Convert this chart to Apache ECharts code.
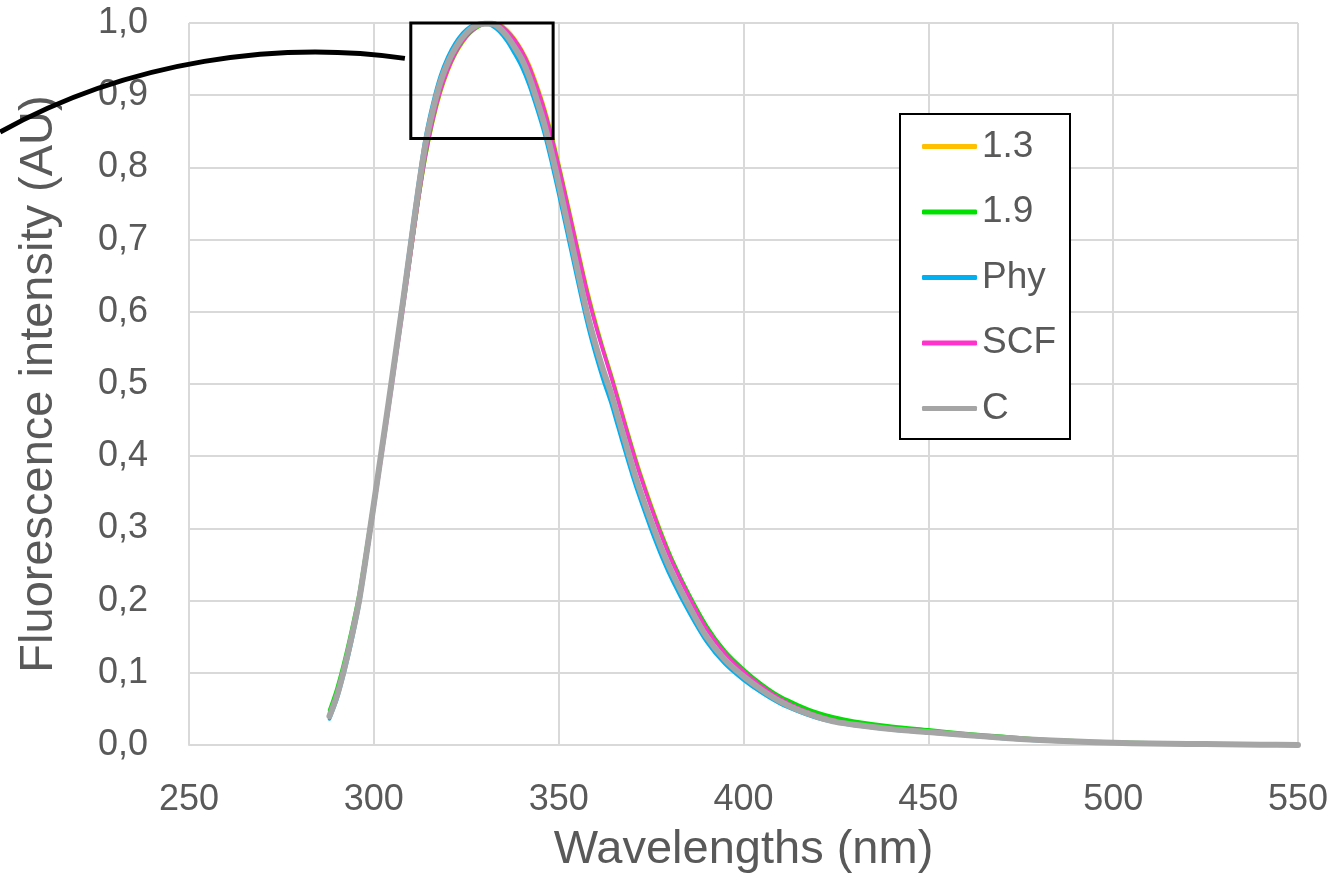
<!DOCTYPE html>
<html>
<head>
<meta charset="utf-8">
<title>Fluorescence</title>
<script src="https://cdn.jsdelivr.net/npm/echarts@6/dist/echarts.min.js"></script>
<style>
  html, body { margin: 0; padding: 0; background: #fff; }
  #chart { width: 1337px; height: 873px; }
</style>
</head>
<body>
<div id="chart"></div>
<script>
// wavelengths (nm)
const wavelengths = [288,290,292,294,296,298,300,302,304,306,308,310,312,314,316,318,320,322,324,326,328,330,
  332,334,336,338,340,342,344,346,348,350,352,354,356,358,360,362,364,366,368,370,372,
  375,378,381,385,390,395,400,405,410,415,420,425,430,
  440,450,460,470,480,490,500,510,520,530,540,550];

const s13 = [0.044,0.074,0.112,0.156,0.206,0.270,0.337,0.404,0.471,0.540,0.610,0.681,0.752,0.815,0.864,0.903,0.933,0.956,0.973,0.986,0.994,0.999,
  1.000,0.998,0.991,0.979,0.963,0.943,0.916,0.885,0.848,0.806,0.761,0.715,0.669,0.625,0.586,0.550,0.517,0.482,0.446,0.411,0.378,
  0.333,0.291,0.253,0.211,0.164,0.129,0.103,0.082,0.065,0.052,0.042,0.035,0.030,
  0.024,0.020,0.015,0.011,0.008,0.005,0.003,0.002,0.0015,0.001,0.0005,0.000];

const s19 = [0.048,0.078,0.116,0.160,0.209,0.273,0.339,0.405,0.472,0.541,0.611,0.682,0.753,0.816,0.866,0.905,0.935,0.957,0.974,0.986,0.994,0.999,
  1.000,0.997,0.989,0.977,0.961,0.940,0.913,0.882,0.845,0.803,0.758,0.712,0.666,0.622,0.583,0.548,0.515,0.480,0.444,0.409,0.376,
  0.331,0.290,0.253,0.211,0.165,0.130,0.105,0.084,0.067,0.055,0.045,0.038,0.033,
  0.026,0.021,0.016,0.012,0.008,0.006,0.004,0.003,0.002,0.001,0.0007,0.000];

const sPhy = [0.036,0.063,0.100,0.143,0.193,0.258,0.330,0.403,0.476,0.551,0.626,0.703,0.777,0.843,0.890,0.927,0.953,0.972,0.986,0.995,0.999,1.000,
  0.996,0.988,0.975,0.958,0.939,0.914,0.883,0.849,0.808,0.763,0.716,0.669,0.622,0.578,0.540,0.506,0.476,0.441,0.406,0.372,0.341,
  0.298,0.259,0.225,0.186,0.143,0.112,0.090,0.072,0.057,0.046,0.037,0.031,0.027,
  0.021,0.017,0.013,0.009,0.006,0.004,0.003,0.002,0.001,0.0008,0.0004,0.000];

const sSCF = [0.040,0.067,0.104,0.147,0.196,0.259,0.327,0.396,0.465,0.536,0.607,0.680,0.753,0.818,0.867,0.906,0.935,0.958,0.975,0.987,0.995,0.999,
  1.000,0.997,0.989,0.977,0.961,0.940,0.912,0.881,0.843,0.801,0.756,0.710,0.664,0.620,0.581,0.546,0.513,0.478,0.442,0.407,0.374,
  0.329,0.287,0.250,0.208,0.161,0.127,0.102,0.081,0.064,0.051,0.041,0.034,0.029,
  0.023,0.019,0.014,0.010,0.007,0.005,0.003,0.002,0.0015,0.001,0.0005,0.000];

const sC = [0.040,0.068,0.106,0.150,0.200,0.265,0.334,0.404,0.474,0.546,0.618,0.693,0.767,0.833,0.880,0.918,0.945,0.965,0.980,0.991,0.997,0.999,
  0.999,0.993,0.982,0.967,0.950,0.926,0.895,0.862,0.822,0.778,0.731,0.684,0.637,0.592,0.554,0.520,0.490,0.455,0.420,0.385,0.353,
  0.310,0.270,0.235,0.195,0.150,0.118,0.095,0.076,0.060,0.048,0.039,0.032,0.028,
  0.022,0.018,0.014,0.010,0.007,0.005,0.003,0.002,0.0015,0.001,0.0005,0.000];

const seriesNames = ['1.3', '1.9', 'Phy', 'SCF', 'C'];
const seriesColors = ['#FFC000', '#00E000', '#00B0F0', '#FF33CC', '#A5A5A5'];
const seriesWidths = [3.5, 3.5, 3.5, 3.5, 6];
const seriesValues = [s13, s19, sPhy, sSCF, sC];

// zoom box and pointer arc, in data units
const zoomBox = [[310, 1.0], [348.5, 0.84]];
const arcPoints = [[198.9, 0.849], [234.0, 0.949], [274.6, 0.976], [308.4, 0.951]];

const textColor = '#595959';
const font = 'Liberation Sans';

const chart = echarts.init(document.getElementById('chart'));

const option = {
  animation: false,
  backgroundColor: '#fff',
  grid: { left: 189, right: 39, top: 23, bottom: 128, outerBoundsMode: 'none', containLabel: false },
  legend: {
    orient: 'vertical',
    left: 900,
    top: 114,
    data: seriesNames,
    backgroundColor: '#fff',
    borderColor: '#000',
    borderWidth: 2,
    borderRadius: 0,
    padding: [14, 14, 12, 22],
    itemWidth: 55,
    itemHeight: 5,
    itemGap: 28.5,
    icon: 'roundRect',
    textStyle: { color: textColor, fontSize: 37, fontFamily: font, lineHeight: 37 }
  },
  xAxis: {
    type: 'value',
    min: 250,
    max: 550,
    interval: 50,
    name: 'Wavelengths (nm)',
    nameLocation: 'middle',
    nameGap: 82,
    nameTextStyle: { color: textColor, fontSize: 47, fontFamily: font },
    axisLine: { show: true, lineStyle: { color: '#d9d9d9', width: 2 } },
    axisTick: { show: false },
    axisLabel: { color: textColor, fontSize: 36, fontFamily: font, margin: 37 },
    splitLine: { show: true, lineStyle: { color: '#d9d9d9', width: 2 } }
  },
  yAxis: {
    type: 'value',
    min: 0,
    max: 1,
    interval: 0.1,
    name: 'Fluorescence intensity (AU)',
    nameLocation: 'middle',
    nameGap: 126,
    nameTextStyle: { color: textColor, fontSize: 47, fontFamily: font },
    axisLine: { show: false },
    axisTick: { show: false },
    axisLabel: {
      color: textColor, fontSize: 36, fontFamily: font, margin: 41,
      formatter: v => v.toFixed(1).replace('.', ',')
    },
    splitLine: { show: true, lineStyle: { color: '#d9d9d9', width: 2 } }
  },
  series: seriesNames.map((name, i) => ({
    name: name,
    type: 'line',
    data: wavelengths.map((w, j) => [w, seriesValues[i][j]]),
    showSymbol: false,
    smooth: 0.3,
    lineStyle: { color: seriesColors[i], width: seriesWidths[i], cap: 'round', join: 'round' },
    itemStyle: { color: seriesColors[i] },
    z: 2 + i
  }))
};

chart.setOption(option);

// annotation: zoom box and curved pointer
function px(p) { return chart.convertToPixel({ gridIndex: 0 }, p); }
const b0 = px(zoomBox[0]);
const b1 = px(zoomBox[1]);
const a = arcPoints.map(px);

chart.setOption({
  graphic: [
    {
      type: 'rect',
      z: 100,
      shape: { x: b0[0], y: b0[1], width: b1[0] - b0[0], height: b1[1] - b0[1] },
      style: { fill: null, stroke: '#000', lineWidth: 3 }
    },
    {
      type: 'bezierCurve',
      z: 100,
      shape: {
        x1: a[0][0], y1: a[0][1],
        cpx1: a[1][0], cpy1: a[1][1],
        cpx2: a[2][0], cpy2: a[2][1],
        x2: a[3][0], y2: a[3][1]
      },
      style: { fill: null, stroke: '#000', lineWidth: 5 }
    }
  ]
});
</script>
</body>
</html>
